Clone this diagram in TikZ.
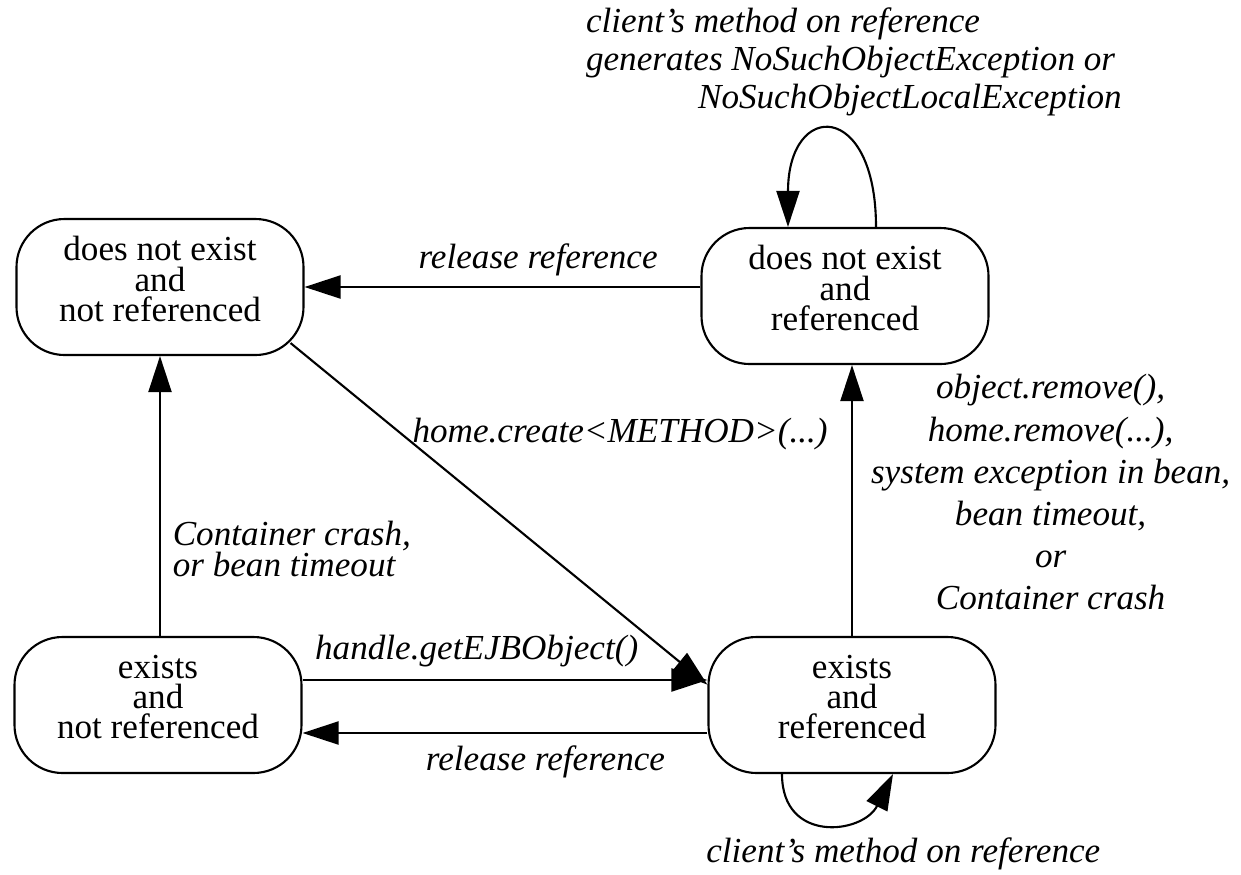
\documentclass[tikz,border=0pt]{standalone}
\usepackage{fontspec}
\setmainfont{Liberation Serif}
\usepackage{tikz}
\usetikzlibrary{arrows.meta}

\begin{document}
\begin{tikzpicture}[
    state/.style={draw, line width=0.6pt, rounded corners=0.48cm,
      minimum width=2.87cm, minimum height=1.36cm, align=center,
      text depth=0.16cm, font=\fontsize{10}{8.6}\selectfont},
    trans/.style={line width=0.6pt, -{Triangle[length=3.6mm, width=2.3mm]}},
    lbl/.style={font=\fontsize{10}{12}\selectfont\itshape}
  ]
  \useasboundingbox (0,0) rectangle (12.41,-8.74);

  \node[state] (gone)  at (1.60,-2.87) {does not exist\\and\\not referenced};
  \node[state] (stale) at (8.45,-2.96) {does not exist\\and\\referenced};
  \node[state] (idle)  at (1.58,-7.05) {exists\\and\\not referenced};
  \node[state] (live)  at (8.52,-7.05) {exists\\and\\referenced};

  % top row
  \draw[trans] (stale.west |- gone.east) -- (gone.east)
    node[lbl, pos=0.41, above=-0.5pt] {release reference};
  \draw[trans] ([xshift=0.31cm]stale.north) .. controls +(0,1.27) and +(0,1.27) .. ([xshift=-0.57cm]stale.north)
    node[lbl, pos=0.5, anchor=south west, inner sep=0pt, xshift=-2.47cm, yshift=0.15cm, align=left,
      font=\fontsize{10}{10.8}\selectfont\itshape]
    {client's method on reference\\generates NoSuchObjectException or\\\hspace{1.12cm}NoSuchObjectLocalException};

  % diagonal and verticals
  \draw[trans] ([shift={(-0.14,0.13)}]gone.south east) -- (live.172)
    node[lbl, pos=0.29, anchor=base west, inner sep=0pt] {home.create<METHOD>(...)};
  \draw[trans] (idle.north -| gone.south) -- (gone.south)
    node[lbl, pos=0.31, right, align=left, font=\fontsize{10}{9}\selectfont\itshape] {Container crash,\\or bean timeout};
  \draw[trans] (live.north) -- (live.north |- stale.south)
    node[lbl, pos=0.53, anchor=west, inner sep=0pt, xshift=0.18cm, align=center]
    {object.remove(),\\home.remove(...),\\system exception in bean,\\bean timeout,\\or\\Container crash};

  % bottom row
  \draw[trans] ([yshift=0.25cm]idle.east) -- ([yshift=0.25cm]idle.east -| live.west)
    node[lbl, pos=0.43, above] {handle.getEJBObject()};
  \draw[trans] ([yshift=-0.28cm]live.west) -- ([yshift=-0.28cm]live.west -| idle.east)
    node[lbl, pos=0.40, below] {release reference};
  \draw[trans] ([xshift=-0.70cm]live.south) .. controls +(0,-0.7) and +(-0.3,-0.6) .. ([xshift=0.41cm]live.south)
    node[lbl, pos=0.5, anchor=base west, inner sep=0pt, xshift=-1.21cm, yshift=-0.40cm] {client's method on reference};
\end{tikzpicture}
\end{document}
